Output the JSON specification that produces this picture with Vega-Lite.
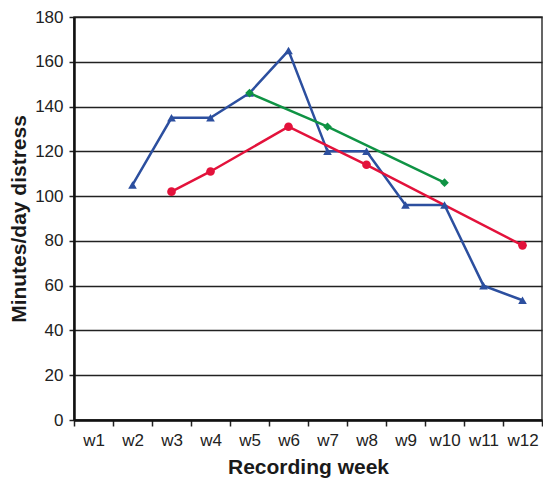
{
  "$schema": "https://vega.github.io/schema/vega-lite/v6.json",
  "width": 468,
  "height": 403,
  "autosize": {"type": "none"},
  "padding": {"left": 74, "top": 17, "right": 1, "bottom": 59},
  "background": "white",
  "config": {
    "font": "Liberation Sans",
    "view": {"stroke": "#333", "strokeWidth": 1.5}
  },
  "data": {
    "values": [
      {"week": "w2", "series": "A", "value": 105},
      {"week": "w3", "series": "A", "value": 135},
      {"week": "w4", "series": "A", "value": 135},
      {"week": "w5", "series": "A", "value": 146},
      {"week": "w6", "series": "A", "value": 165},
      {"week": "w7", "series": "A", "value": 120},
      {"week": "w8", "series": "A", "value": 120},
      {"week": "w9", "series": "A", "value": 96},
      {"week": "w10", "series": "A", "value": 96},
      {"week": "w11", "series": "A", "value": 60},
      {"week": "w12", "series": "A", "value": 53.5},
      {"week": "w3", "series": "B", "value": 102},
      {"week": "w4", "series": "B", "value": 111},
      {"week": "w6", "series": "B", "value": 131},
      {"week": "w8", "series": "B", "value": 114},
      {"week": "w12", "series": "B", "value": 78},
      {"week": "w5", "series": "C", "value": 146},
      {"week": "w7", "series": "C", "value": 131},
      {"week": "w10", "series": "C", "value": 106}
    ]
  },
  "encoding": {
    "x": {
      "field": "week",
      "type": "ordinal",
      "bandPosition": 0.5,
      "sort": ["w1","w2","w3","w4","w5","w6","w7","w8","w9","w10","w11","w12"],
      "scale": {"type": "band", "domain": ["w1","w2","w3","w4","w5","w6","w7","w8","w9","w10","w11","w12"], "paddingInner": 0, "paddingOuter": 0},
      "axis": {
        "title": "Recording week",
        "titleFontSize": 21,
        "titleFontWeight": "bold",
        "titleColor": "#1a1a1a",
        "titlePadding": 8,
        "labelFontSize": 17,
        "labelColor": "#222",
        "labelAngle": 0,
        "labelPadding": 6,
        "tickBand": "extent",
        "tickSize": 6,
        "tickColor": "#222",
        "tickWidth": 1.5,
        "domainColor": "#111",
        "domainWidth": 2.5,
        "grid": false
      }
    },
    "y": {
      "field": "value",
      "type": "quantitative",
      "scale": {"domain": [0, 180], "nice": false},
      "axis": {
        "title": "Minutes/day distress",
        "titleFontSize": 21,
        "titleFontWeight": "bold",
        "titleColor": "#1a1a1a",
        "titlePadding": 5,
        "labelFontSize": 17,
        "labelColor": "#222",
        "labelPadding": 6,
        "values": [0,20,40,60,80,100,120,140,160,180],
        "tickSize": 5,
        "tickColor": "#222",
        "tickWidth": 1.5,
        "domainColor": "#111",
        "domainWidth": 2.5,
        "grid": true,
        "gridColor": "#222",
        "gridWidth": 1.3
      }
    },
    "color": {
      "field": "series",
      "type": "nominal",
      "scale": {"domain": ["A","B","C"], "range": ["#2c4f9f", "#e3123b", "#0f9344"]},
      "legend": null
    }
  },
  "layer": [
    {"mark": {"type": "line", "strokeWidth": 2.5}},
    {
      "mark": {"type": "point", "filled": true, "opacity": 1, "size": 75},
      "encoding": {
        "shape": {
          "field": "series",
          "type": "nominal",
          "scale": {"domain": ["A","B","C"], "range": ["triangle-up", "circle", "diamond"]},
          "legend": null
        }
      }
    }
  ]
}
